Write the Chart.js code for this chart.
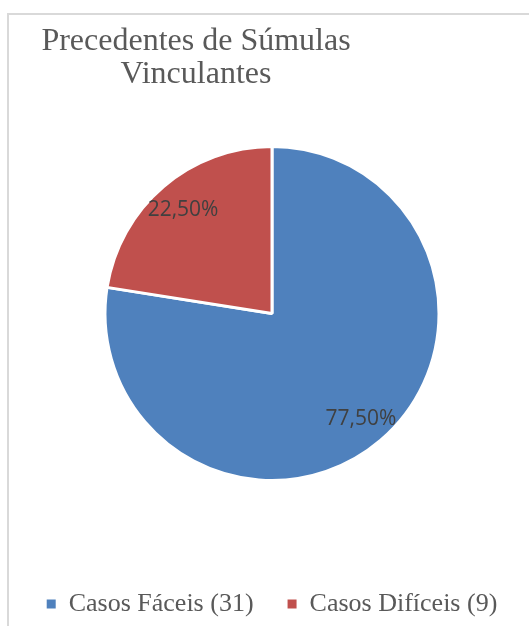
<!DOCTYPE html>
<html>
<head>
<meta charset="utf-8">
<script src="https://cdn.jsdelivr.net/npm/chart.js@4"></script>
<style>
  html, body { margin: 0; padding: 0; background: #fff; overflow: hidden; }
  #frame { position: absolute; left: 7px; top: 13px; width: 700px; height: 800px; border: 2px solid #d9d9d9; }
  #c { position: absolute; left: 0; top: 0; }
</style>
</head>
<body>
<div id="frame"></div>
<canvas id="c" width="556" height="626"></canvas>
<script>
var titleLines = ["Precedentes de Súmulas", "Vinculantes"];
var categories = ["Casos Fáceis", "Casos Difíceis"];
var counts = [31, 9];
var colors = ["#4F81BD", "#C0504D"];

var total = counts.reduce(function (a, b) { return a + b; }, 0);

// title sits left of the pie, so draw it by hand
var titlePlugin = {
  id: "sideTitle",
  afterDraw: function (chart) {
    var ctx = chart.ctx;
    ctx.save();
    ctx.fillStyle = "#595959";
    ctx.font = "32px 'Liberation Serif', 'Times New Roman', serif";
    ctx.textAlign = "center";
    ctx.textBaseline = "alphabetic";
    ctx.fillText(titleLines[0], 196, 50);
    ctx.fillText(titleLines[1], 196, 83);
    ctx.restore();
  }
};

// percentage labels inside the slices
var pctPlugin = {
  id: "pctLabels",
  afterDatasetsDraw: function (chart) {
    var ctx = chart.ctx;
    var meta = chart.getDatasetMeta(0);
    ctx.save();
    ctx.fillStyle = "#404040";
    ctx.font = "21px 'Open Sans', 'Liberation Sans', sans-serif";
    ctx.textAlign = "center";
    ctx.textBaseline = "middle";
    meta.data.forEach(function (arc, i) {
      var p = arc.getProps(["x", "y", "startAngle", "endAngle", "outerRadius"], true);
      var mid = (p.startAngle + p.endAngle) / 2;
      var r = p.outerRadius * 0.82;
      var txt = (counts[i] / total * 100).toFixed(2).replace(".", ",") + "%";
      ctx.fillText(txt, p.x + Math.cos(mid) * r, p.y + Math.sin(mid) * r + 1);
    });
    ctx.restore();
  }
};

new Chart(document.getElementById("c"), {
  type: "pie",
  data: {
    labels: categories.map(function (c, i) { return c + " (" + counts[i] + ")"; }),
    datasets: [{
      data: counts,
      backgroundColor: colors,
      borderColor: "#ffffff",
      borderWidth: 3,
      radius: 167,
      hoverOffset: 0
    }]
  },
  options: {
    responsive: false,
    animation: false,
    devicePixelRatio: 1,
    layout: { padding: { top: 70, bottom: -1, left: 10, right: 22 } },
    plugins: {
      title: { display: false },
      tooltip: { enabled: false },
      legend: {
        position: "bottom",
        labels: {
          color: "#595959",
          boxWidth: 9,
          boxHeight: 9,
          padding: 34,
          font: { family: "'Liberation Serif', 'Times New Roman', serif", size: 26 },
          generateLabels: function (chart) {
            var items = Chart.overrides.pie.plugins.legend.labels.generateLabels(chart);
            items.forEach(function (it) { it.lineWidth = 0; });
            return items;
          }
        }
      }
    }
  },
  plugins: [titlePlugin, pctPlugin]
});
</script>
</body>
</html>
